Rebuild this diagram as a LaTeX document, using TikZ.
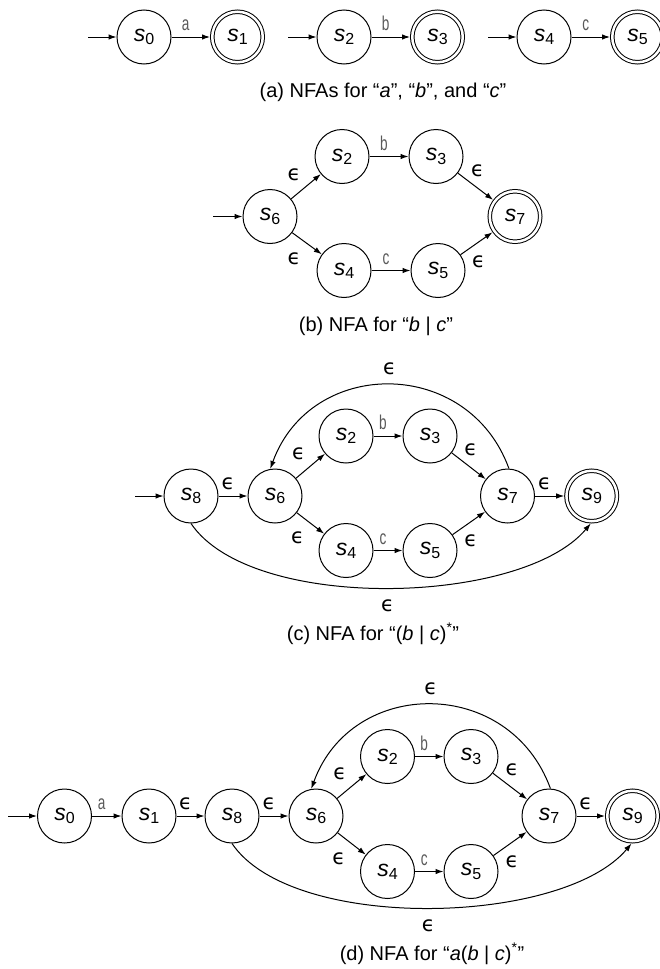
\documentclass[tikz,border=0pt]{standalone}
\usepackage{fontspec}
\setmainfont{Liberation Sans}
\newfontfamily\epsfont{DejaVu Sans}
\usetikzlibrary{arrows.meta}

% state name: italic s with a plain digit below
\newcommand{\sn}[1]{\textit{s}\raisebox{-3.3pt}{\fontsize{16}{16}\selectfont #1}}
\newcommand{\eps}{{\epsfont ϵ}}
% thin, narrow input letters
\newcommand{\inp}[1]{\scalebox{0.68}[1]{#1}}

\tikzset{
  state/.style={circle, draw, line width=1pt, minimum size=54pt, inner sep=0pt,
    font=\fontsize{23}{27}\selectfont},
  final/.style={state, double, double distance=2.5pt, minimum size=50.5pt, outer sep=2.25pt},
  tr/.style={-{Latex[length=8pt,width=5.5pt]}, line width=1pt},
  sym/.style={midway, anchor=base, xshift=-5pt, yshift=6.5pt, inner sep=0pt,
    font=\fontsize{20}{20}\selectfont, text=black!65},
  heps/.style={midway, anchor=base, xshift=-5pt, yshift=6.5pt, inner sep=0pt,
    font=\fontsize{21}{21}\selectfont},
  deps/.style={midway, inner sep=0pt, font=\fontsize{21}{21}\selectfont},
  eul/.style={deps, xshift=-12pt, yshift=12pt},
  ell/.style={deps, xshift=-13pt, yshift=-15pt},
  eur/.style={deps, xshift=2pt, yshift=16pt},
  elr/.style={deps, xshift=2pt, yshift=-18pt},
  etop/.style={midway, anchor=base, yshift=10pt, inner sep=0pt, font=\fontsize{21}{21}\selectfont},
  ebot/.style={midway, anchor=north, yshift=-11pt, inner sep=0pt, font=\fontsize{21}{21}\selectfont},
  caption/.style={anchor=base, inner sep=0pt, font=\fontsize{20}{24}\selectfont}
}

\begin{document}
\begin{tikzpicture}[x=1pt, y=1pt]
  \useasboundingbox (0,0) rectangle (660,-969);

  % (a) one NFA per letter
  \coordinate (a0in) at (88,-37);
  \node[state] (a0) at (144,-37) {\sn{0}};
  \node[final] (a1) at (237.5,-37) {\sn{1}};
  \draw[tr] (a0in) -- (a0);
  \draw[tr] (a0) -- node[sym] {\inp{a}} (a1);

  \coordinate (a2in) at (288,-37);
  \node[state] (a2) at (344,-37) {\sn{2}};
  \node[final] (a3) at (437.5,-37) {\sn{3}};
  \draw[tr] (a2in) -- (a2);
  \draw[tr] (a2) -- node[sym] {\inp{b}} (a3);

  \coordinate (a4in) at (488,-37);
  \node[state] (a4) at (544,-37) {\sn{4}};
  \node[final] (a5) at (637.5,-37) {\sn{5}};
  \draw[tr] (a4in) -- (a4);
  \draw[tr] (a4) -- node[sym] {\inp{c}} (a5);

  \node[caption] (capa) at (383,-97) {(a) NFAs for “\textit{a}”, “\textit{b}”, and “\textit{c}”};

  % (b) alternation
  \coordinate (b6in) at (213,-216.5);
  \node[state] (b6) at (270,-216.5) {\sn{6}};
  \node[state] (b2) at (342,-156.5) {\sn{2}};
  \node[state] (b3) at (436,-156.5) {\sn{3}};
  \node[state] (b4) at (344,-270.5) {\sn{4}};
  \node[state] (b5) at (438,-270.5) {\sn{5}};
  \node[final] (b7) at (515,-216.5) {\sn{7}};
  \draw[tr] (b6in) -- (b6);
  \draw[tr] (b6) -- node[eul] {\eps} (b2);
  \draw[tr] (b6) -- node[ell] {\eps} (b4);
  \draw[tr] (b2) -- node[sym] {\inp{b}} (b3);
  \draw[tr] (b4) -- node[sym] {\inp{c}} (b5);
  \draw[tr] (b3) -- node[eur] {\eps} (b7);
  \draw[tr] (b5) -- node[elr] {\eps} (b7);

  \node[caption] (capb) at (376,-331.5) {(b) NFA for “\textit{b} | \textit{c}”};

  % (c) closure
  \coordinate (c8in) at (135,-496);
  \node[state] (c8) at (191,-496) {\sn{8}};
  \node[state] (c6) at (275,-496) {\sn{6}};
  \node[state] (c2) at (346,-436) {\sn{2}};
  \node[state] (c3) at (430,-436) {\sn{3}};
  \node[state] (c4) at (346,-550.5) {\sn{4}};
  \node[state] (c5) at (430,-550.5) {\sn{5}};
  \node[state] (c7) at (507.5,-496) {\sn{7}};
  \node[final] (c9) at (591.7,-496) {\sn{9}};
  \draw[tr] (c8in) -- (c8);
  \draw[tr] (c8) -- node[heps] {\eps} (c6);
  \draw[tr] (c6) -- node[eul] {\eps} (c2);
  \draw[tr] (c6) -- node[ell] {\eps} (c4);
  \draw[tr] (c2) -- node[sym] {\inp{b}} (c3);
  \draw[tr] (c4) -- node[sym] {\inp{c}} (c5);
  \draw[tr] (c3) -- node[eur] {\eps} (c7);
  \draw[tr] (c5) -- node[elr] {\eps} (c7);
  \draw[tr] (c7) -- node[heps] {\eps} (c9);
  \draw[tr] (c7.87) to[out=110, in=70, looseness=1.28] node[etop] {\eps} (c6.100);
  \draw[tr] (c8.-90) to[out=-56, in=-130, looseness=0.69] node[ebot] {\eps} (c9.-92);

  \node[caption] (capc) at (373,-640) {(c) NFA for “(\textit{b} | \textit{c})\textsuperscript{*}”};

  % (d) concatenation
  \coordinate (d0in) at (8,-816);
  \node[state] (d0) at (64.5,-816) {\sn{0}};
  \node[state] (d1) at (149,-816) {\sn{1}};
  \node[state] (d8) at (232,-816) {\sn{8}};
  \node[state] (d6) at (316,-816) {\sn{6}};
  \node[state] (d2) at (387.5,-756.5) {\sn{2}};
  \node[state] (d3) at (471,-756.5) {\sn{3}};
  \node[state] (d4) at (387.5,-871.5) {\sn{4}};
  \node[state] (d5) at (471,-871.5) {\sn{5}};
  \node[state] (d7) at (549,-816) {\sn{7}};
  \node[final] (d9) at (632.5,-816) {\sn{9}};
  \draw[tr] (d0in) -- (d0);
  \draw[tr] (d0) -- node[sym] {\inp{a}} (d1);
  \draw[tr] (d1) -- node[heps] {\eps} (d8);
  \draw[tr] (d8) -- node[heps] {\eps} (d6);
  \draw[tr] (d6) -- node[eul] {\eps} (d2);
  \draw[tr] (d6) -- node[ell] {\eps} (d4);
  \draw[tr] (d2) -- node[sym] {\inp{b}} (d3);
  \draw[tr] (d4) -- node[sym] {\inp{c}} (d5);
  \draw[tr] (d3) -- node[eur] {\eps} (d7);
  \draw[tr] (d5) -- node[elr] {\eps} (d7);
  \draw[tr] (d7) -- node[heps] {\eps} (d9);
  \draw[tr] (d7.87) to[out=110, in=70, looseness=1.28] node[etop] {\eps} (d6.100);
  \draw[tr] (d8.-90) to[out=-56, in=-130, looseness=0.69] node[ebot] {\eps} (d9.-92);

  \node[caption] (capd) at (432,-960) {(d) NFA for “\textit{a}(\textit{b} | \textit{c})\textsuperscript{*}”};
\end{tikzpicture}
\end{document}
